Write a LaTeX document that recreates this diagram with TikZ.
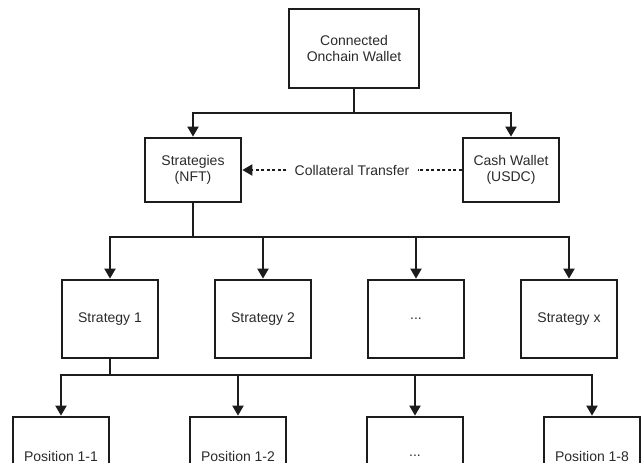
\documentclass[tikz,border=0pt]{standalone}
\usepackage{fontspec}
\setmainfont{Liberation Sans}
\usetikzlibrary{arrows.meta}
\definecolor{ink}{HTML}{1C1C1C}
\definecolor{txt}{HTML}{2A2A2A}
\begin{document}
\begin{tikzpicture}[x=1pt,y=-1pt,
  box/.style={draw=ink,line width=2.7pt,minimum width=96pt,minimum height=78pt,inner sep=0pt,align=center,text=txt,font=\fontsize{14}{16.5}\selectfont},
  conn/.style={draw=ink,line width=2pt},
  arr/.style={conn,-{Triangle[width=11pt,length=10pt]}},
  dots/.style={draw=ink,line width=2pt,dash pattern=on 3pt off 2.5pt}]
\useasboundingbox (0,0) rectangle (641,463);
\node[box,minimum width=130pt,minimum height=79pt] (top) at (354,48.5) {Connected\\Onchain Wallet};
\node[box,minimum height=64pt] (strat) at (193,170) {Strategies\\(NFT)};
\node[box,minimum height=64pt] (cash) at (511,170) {Cash Wallet\\(USDC)};
\node[text=txt,font=\fontsize{14}{16.5}\selectfont,inner sep=8pt] (coll) at (352,170) {Collateral Transfer};
\node[box] (s1) at (110,319) {Strategy 1};
\node[box] (s2) at (263,319) {Strategy 2};
\node[box] (s3) at (416,319) {...};
\node[box] (sx) at (569,319) {Strategy x};
\node[box] (p1) at (61,456) {Position 1-1};
\node[box] (p2) at (238,456) {Position 1-2};
\node[box] (p3) at (415,456) {...};
\node[box] (p8) at (592,456) {Position 1-8};
\coordinate (j1) at (354,113);
\coordinate (j2) at (193,237);
\coordinate (j3) at (110,375);
\draw[conn] (top.south) -- (j1);
\draw[arr] (j1) -| (strat.north);
\draw[arr] (j1) -| (cash.north);
\draw[dots] (cash.west) -- (coll.east);
\draw[dots,-{Triangle[width=11pt,length=10pt]}] (coll.west) -- (strat.east);
\draw[conn] (strat.south) -- (j2);
\draw[arr] (j2) -| (s1.north);
\draw[arr] (j2) -| (s2.north);
\draw[arr] (j2) -| (s3.north);
\draw[arr] (j2) -| (sx.north);
\draw[conn] (s1.south) -- (j3);
\draw[arr] (j3) -| (p1.north);
\draw[arr] (j3) -| (p2.north);
\draw[arr] (j3) -| (p3.north);
\draw[arr] (j3) -| (p8.north);
\end{tikzpicture}
\end{document}
